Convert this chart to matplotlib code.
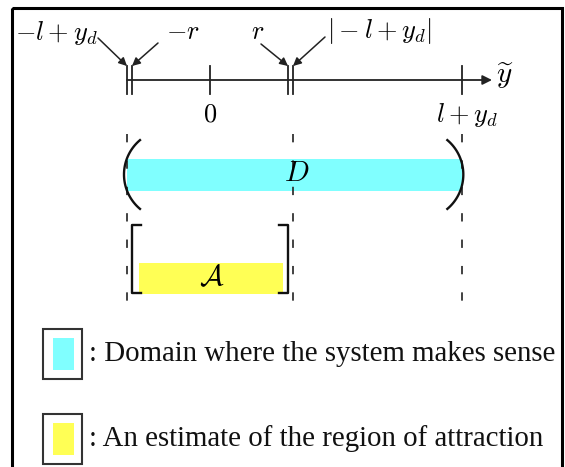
import numpy as np
import matplotlib
matplotlib.use("Agg")
from matplotlib import pyplot as plt
from matplotlib.patches import Rectangle

plt.rcParams['mathtext.fontset'] = 'cm'
plt.rcParams['lines.scale_dashes'] = False

# points on the y~ axis (schematic units)
neg_l_yd = -1.0     # -l + y_d
r = 0.94            # radius of the estimate
abs_l_yd = 1.0      # |-l + y_d|
l_yd = 3.04         # l + y_d

tick_vals = [neg_l_yd, -r, 0.0, r, abs_l_yd, l_yd]
guide_vals = [neg_l_yd, abs_l_yd, l_yd]

domain_D = (neg_l_yd, l_yd)
region_A = (-r, r)

# (label, value it points at, text position in px, arrow start in px)
arrow_labels = [
    (r'$-l + y_d$', neg_l_yd, (56, 33), (98, 38)),
    (r'$-r$', -r, (183, 32), (158, 43)),
    (r'$r$', r, (258, 32), (261, 44)),
    (r'$|-l + y_d|$', abs_l_yd, (380, 31), (325, 37)),
]

legend_text = [": Domain where the system makes sense",
               ": An estimate of the region of attraction"]

CYAN = '#80ffff'
YELLOW = '#ffff55'

W, H = 565, 467
SCALE = 83.0    # px per unit
ORIGIN = 210.0  # px position of 0


def px(x):
    return (x - ORIGIN) / SCALE


fig = plt.figure(figsize=(W / 100, H / 100), dpi=100)
ax = fig.add_axes([0, 0, 1, 1])
ax.set_xlim(px(0), px(W))
ax.set_ylim(H, 0)
ax.axis('off')

# frame
ax.add_patch(Rectangle((px(12), 8), (562 - 12) / SCALE, 470, fill=False,
                       lw=2.2, ec='k'))

# axis with arrow
axis_y = 80
ax.annotate('', xy=(px(492), axis_y), xytext=(neg_l_yd, axis_y),
            arrowprops=dict(arrowstyle='-|>', lw=1.3, color='#222222',
                            mutation_scale=14, shrinkA=0, shrinkB=0))
for t in tick_vals:
    ax.plot([t, t], [66, 94], color='#222222', lw=1.3)
ax.text(px(505), 76, r'$\widetilde{y}$', fontsize=21, ha='center', va='center')
ax.text(0.0, 115, r'$0$', fontsize=19, ha='center', va='center')
ax.text(l_yd + px(467) - px(462), 115, r'$l + y_d$', fontsize=19,
        ha='center', va='center')

for lab, val, (tx, ty), (sx, sy) in arrow_labels:
    ax.text(px(tx), ty, lab, fontsize=19, ha='center', va='center')
    ax.annotate('', xy=(val, 66), xytext=(px(sx), sy),
                arrowprops=dict(arrowstyle='-|>', lw=1.1, color='#222222',
                                mutation_scale=12, shrinkA=0, shrinkB=0))

# dashed guides
for g in guide_vals:
    ax.plot([g, g], [134, 318], color='#333333', lw=1.3,
            linestyle=(0, (6, 13)))

# domain D
ax.add_patch(Rectangle((domain_D[0], 159), domain_D[1] - domain_D[0], 32,
                       color=CYAN, lw=0))
th = np.linspace(-0.87, 0.87, 60)
R = 45.0
ax.plot(domain_D[0] + (-3 + R - R * np.cos(th)) / SCALE, 174.5 + R * np.sin(th),
        color='#111111', lw=1.7)
ax.plot(domain_D[1] + (1 - R + R * np.cos(th)) / SCALE, 174.5 + R * np.sin(th),
        color='#111111', lw=1.7)
ax.text(px(297), 173, r'$D$', fontsize=21, ha='center', va='center')

# estimate A
inset = 7 / SCALE
ax.add_patch(Rectangle((region_A[0] + inset, 263),
                       region_A[1] - region_A[0] - 2 * inset + 2 / SCALE, 31,
                       color=YELLOW, lw=0))
serif = 9 / SCALE
ax.plot([region_A[0] + serif, region_A[0], region_A[0], region_A[0] + serif],
        [225, 225, 293, 293], color='#111111', lw=1.7)
ax.plot([region_A[1] - serif, region_A[1], region_A[1], region_A[1] - serif],
        [225, 225, 293, 293], color='#111111', lw=1.7)
ax.text(px(212), 277, r'$\mathcal{A}$', fontsize=21, ha='center', va='center')

# legend
for i, (txt, col) in enumerate(zip(legend_text, [CYAN, YELLOW])):
    top = 329 + i * 85
    ax.add_patch(Rectangle((px(43), top), 39 / SCALE, 50, fill=False,
                           ec='#333333', lw=1.5))
    ax.add_patch(Rectangle((px(53), top + 9), 21 / SCALE, 32, color=col, lw=0))
    ax.text(px(89), top + 25, txt, fontsize=20.8, family='Liberation Serif',
            color='#111111', ha='left', va='center')

fig.savefig('out.png', dpi=100)
